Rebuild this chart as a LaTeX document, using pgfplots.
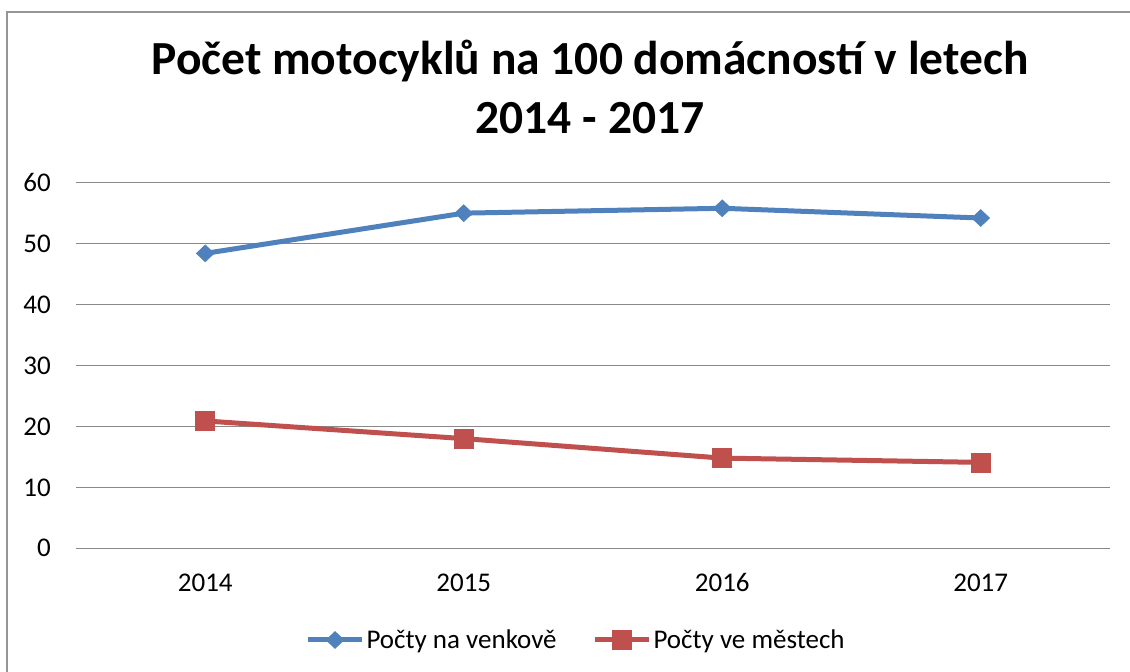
\documentclass[border=0pt]{standalone}
\usepackage{fontspec}
\setmainfont{Carlito}
\usepackage{pgfplots}
\pgfplotsset{compat=1.18}
\definecolor{cblue}{HTML}{4F81BD}
\definecolor{cred}{HTML}{C0504D}
\definecolor{cgrid}{HTML}{898989}
\begin{document}
\begin{tikzpicture}[x=1bp,y=1bp]
\useasboundingbox (0,0) rectangle (1130,672);
\draw[color=cgrid!90, line width=1.8bp] (7,-20) -- (7,660) -- (1150,660);
\node[anchor=base, font=\fontsize{47.5bp}{50bp}\selectfont\bfseries] at (590,597) {Počet motocyklů na 100 domácností v letech};
\node[anchor=base, font=\fontsize{47.5bp}{50bp}\selectfont\bfseries] at (590,538) {2014 - 2017};
\begin{axis}[
  at={(76bp,123.7bp)}, anchor=south west,
  scale only axis, width=1034bp, height=365.6bp,
  xmin=-0.5, xmax=3.5, ymin=0, ymax=60,
  ytick={0,10,20,30,40,50,60},
  xtick={0,1,2,3}, xticklabels={2014,2015,2016,2017},
  major tick length=0pt,
  axis line style={draw=none},
  ymajorgrids, grid style={color=cgrid, line width=1.4bp},
  /pgf/number format/assume math mode=true,
  tick label style={font=\fontsize{27bp}{32bp}\selectfont},
  yticklabel style={anchor=east, inner sep=0pt, xshift=-25bp},
  xticklabel style={anchor=north, inner sep=0pt, yshift=-25bp},
  clip=false,
  legend style={draw=none, fill=none, at={(0.4836,-0.2508)}, anchor=center,
    font=\fontsize{27bp}{32bp}\selectfont, column sep=0bp,
    /tikz/every even column/.append style={column sep=34bp}},
  legend columns=2,
  legend image code/.code={\draw[mark repeat=2,mark phase=2,#1] plot coordinates {(0bp,0bp) (27bp,0bp) (54bp,0bp)};},
]
\addplot[color=cblue, line width=5bp, mark=diamond*, mark size=8.5bp, mark options={xscale=1.4, solid, line width=0.5bp, fill=cblue}]
  coordinates {(0,48.4) (1,55.0) (2,55.8) (3,54.2)};
\addlegendentry{Počty na venkově}
\addplot[color=cred, line width=5bp, mark=square*, mark size=9.5bp, mark options={solid, line width=0.5bp, fill=cred}]
  coordinates {(0,20.9) (1,18.0) (2,14.8) (3,14.1)};
\addlegendentry{Počty ve městech}
\end{axis}
\end{tikzpicture}
\end{document}
